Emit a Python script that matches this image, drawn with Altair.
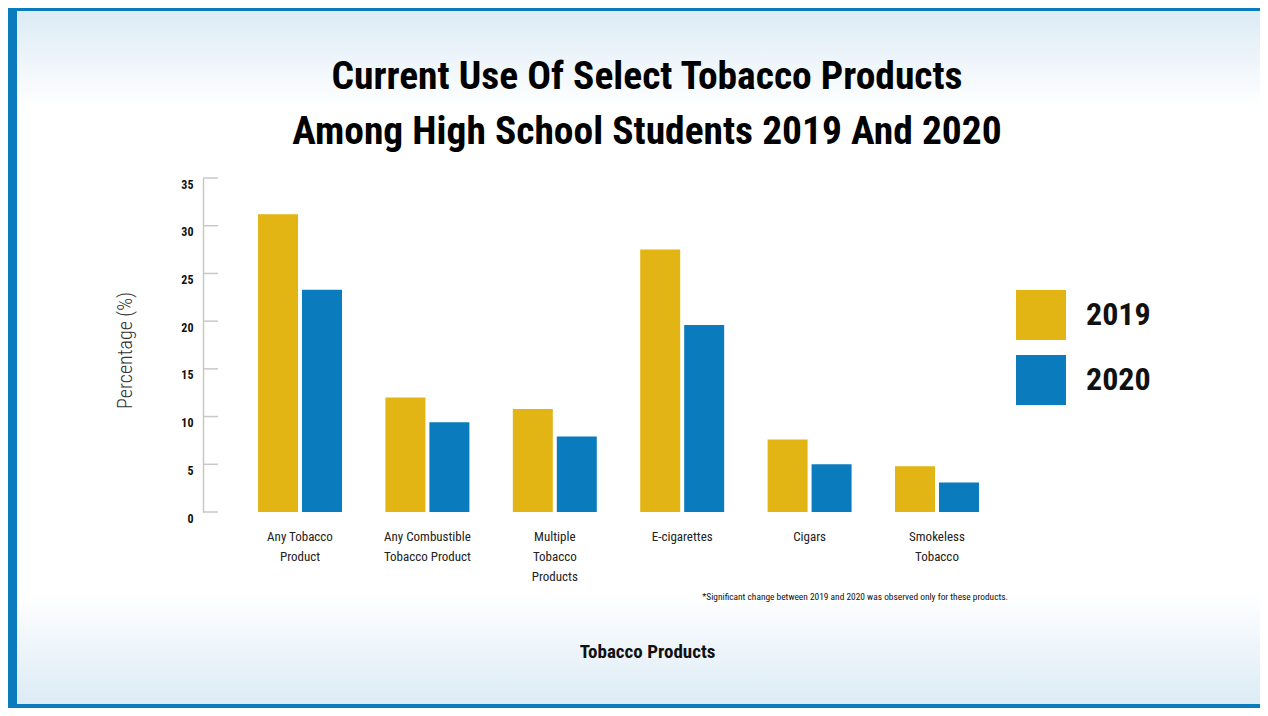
import altair as alt
import pandas as pd

categories = ["Any Tobacco|Product", "Any Combustible|Tobacco Product", "Multiple|Tobacco|Products",
              "E-cigarettes", "Cigars", "Smokeless|Tobacco"]
values_2019 = [31.2, 12.0, 10.8, 27.5, 7.6, 4.8]
values_2020 = [23.3, 9.4, 7.9, 19.6, 5.0, 3.1]
years = ["2019", "2020"]
y_ticks = [0, 5, 10, 15, 20, 25, 30, 35]
title_text = "Current Use Of Select Tobacco Products|Among High School Students 2019 And 2020"
footnote = "*Significant change between 2019 and 2020 was observed only for these products."

FONT = "Roboto Condensed, Roboto, sans-serif"
GOLD = "#e2b514"
BLUE = "#0a7bbd"

rows = []
for c, a, b in zip(categories, values_2019, values_2020):
    rows.append({"cat": c, "year": "2019", "val": a})
    rows.append({"cat": c, "year": "2020", "val": b})
df = pd.DataFrame(rows)

W, H = 831, 334
PL, PT = 195, 170
TOTW, TOTH = 1252, 700

bg = alt.Chart(pd.DataFrame({"a": [0]})).mark_rect(
    fill=alt.Gradient(
        gradient="linear", x1=0, x2=0, y1=0, y2=1,
        stops=[alt.GradientStop(color="#dcebf5", offset=0),
               alt.GradientStop(color="#ffffff", offset=0.14),
               alt.GradientStop(color="#ffffff", offset=0.84),
               alt.GradientStop(color="#dcebf5", offset=1)]),
).encode(x=alt.value(-PL + 9), x2=alt.value(TOTW - PL + 10),
         y=alt.value(-PT + 3), y2=alt.value(TOTH - PT - 4))

bars = alt.Chart(df).mark_bar().encode(
    x=alt.X("cat:N", sort=categories,
            scale=alt.Scale(paddingInner=0.341, paddingOuter=0.432),
            axis=alt.Axis(title="Tobacco Products", labelAngle=0, domain=False, ticks=False,
                          zindex=2,
                          labelExpr="split(datum.label, '|')", labelLineHeight=20,
                          labelFont=FONT, labelFontSize=13, labelColor="#222",
                          labelPadding=18, labelBaseline="top",
                          titleFont=FONT, titleFontSize=19, titleFontWeight="bold",
                          titleColor="#111", titleX=444, titleY=139, titleBaseline="middle",
                          titleAlign="center")),
    xOffset=alt.XOffset("year:N", scale=alt.Scale(paddingInner=0.0909, paddingOuter=0)),
    y=alt.Y("val:Q", scale=alt.Scale(domain=[0, 35], nice=False),
            axis=alt.Axis(title="Percentage (%)", values=y_ticks, ticks=False, grid=False,
                          zindex=2,
                          domainColor="#c8c8c8", domainWidth=1.5,
                          labelFont=FONT, labelFontSize=12, labelFontWeight="bold",
                          labelColor="#111", labelPadding=10, labelBaseline="middle", labelOffset=6,
                          titleFont=FONT, titleFontSize=20, titleFontWeight=300,
                          titleColor="#333", titleX=-78, titleY=172, titleAngle=-90,
                          titleBaseline="middle", titleAlign="center")),
    color=alt.Color("year:N", scale=alt.Scale(domain=years, range=[GOLD, BLUE]),
                    legend=alt.Legend(title=None, orient="none", legendX=813, legendY=112,
                                      zindex=2,
                                      symbolType="square", symbolSize=2500,
                                      symbolStrokeWidth=0, symbolOpacity=1,
                                      labelFont=FONT, labelFontSize=32, labelFontWeight="bold",
                                      labelColor="#111", labelOffset=20, rowPadding=15)),
)

ticks = alt.Chart(pd.DataFrame({"v": y_ticks})).mark_rule(color="#c8c8c8", strokeWidth=1.5).encode(
    y=alt.Y("v:Q"), x=alt.value(0), x2=alt.value(15))

note = alt.Chart(pd.DataFrame({"t": [footnote]})).mark_text(
    font=FONT, fontSize=9.4, align="right", baseline="middle", color="#111"
).encode(text="t:N", x=alt.value(805), y=alt.value(419))

title = alt.Chart(pd.DataFrame({"t": [title_text]})).mark_text(
    font=FONT, fontSize=39.5, fontWeight="bold", align="center", baseline="alphabetic",
    color="#000", lineBreak="|", lineHeight=55
).encode(text="t:N", x=alt.value(444), y=alt.value(-89))

chart = alt.layer(bg, bars, ticks, note, title).properties(
    width=W, height=H,
    autosize=alt.AutoSizeParams(type="none"),
    padding={"left": PL, "top": PT, "right": TOTW - PL - W, "bottom": TOTH - PT - H},
    background=BLUE,
).configure_view(stroke=None)

chart.save("out.html", embed_options={"renderer": "svg", "actions": False})
